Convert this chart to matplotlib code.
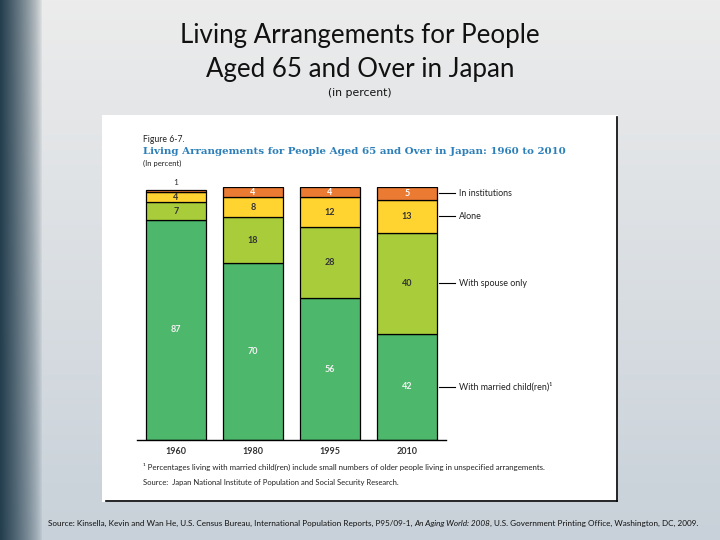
import numpy as np
import matplotlib.pyplot as plt
from matplotlib.patches import Rectangle
from matplotlib.lines import Line2D

# data
years = ["1960", "1980", "1995", "2010"]
married_child = [87, 70, 56, 42]
spouse_only = [7, 18, 28, 40]
alone = [4, 8, 12, 13]
institutions = [1, 4, 4, 5]
series_names = ["With married child(ren)¹", "With spouse only", "Alone", "In institutions"]

W, H = 720, 540


def fx(px):
    return px / W


def fy(py):
    return 1 - py / H


fig = plt.figure(figsize=(7.2, 5.4), dpi=100)

# slide background (light gray gradient with dark band on the left)
bg = fig.add_axes([0, 0, 1, 1])
yy = np.linspace(0, 1, H)[:, None]
xx = np.linspace(0, 1, W)[None, :]
top = np.array([236, 236, 236]) / 255
bot = np.array([200, 209, 217]) / 255
img = top * (1 - yy[..., None]) + bot * yy[..., None]
img = img * np.ones((1, W, 1))
dark = np.array([36, 62, 78]) / 255
band = np.clip(1 - (xx * W) / 42, 0, 1) ** 0.7
band = band[..., None]
img = img * (1 - band) + dark * band
bg.imshow(img, extent=[0, 1, 0, 1], aspect="auto")
bg.set_xlim(0, 1)
bg.set_ylim(0, 1)
bg.axis("off")

fig.text(0.5, fy(36), "Living Arrangements for People", ha="center", va="center",
         fontsize=18.6, family="Lato", color="#111111")
fig.text(0.5, fy(69), "Aged 65 and Over in Japan", ha="center", va="center",
         fontsize=18.6, family="Lato", color="#111111")
fig.text(0.5, fy(93), "(in percent)", ha="center", va="center",
         fontsize=7.8, family="DejaVu Sans Condensed", color="#111111")

# white panel with the original figure
fig.patches.append(Rectangle((fx(102), fy(502)), fx(516), 387 / H, transform=fig.transFigure,
                             facecolor="white", edgecolor="none", zorder=1))
fig.lines.append(Line2D([fx(617), fx(617)], [fy(117), fy(501)], transform=fig.transFigure,
                        color="black", lw=1.2, zorder=2))
fig.lines.append(Line2D([fx(106), fx(617)], [fy(501), fy(501)], transform=fig.transFigure,
                        color="black", lw=1.2, zorder=2))

fig.text(fx(143), fy(140), "Figure 6-7.", va="center", fontsize=6.2, family="Lato",
         color="#222222", zorder=3)
fig.text(fx(143), fy(152), "Living Arrangements for People Aged 65 and Over in Japan: 1960 to 2010",
         va="center", fontsize=7.35, family="DejaVu Serif", weight="bold", color="#2C7FB8", zorder=3)
fig.text(fx(143), fy(163), "(In percent)", va="center", fontsize=5.5, family="Lato",
         color="#222222", zorder=3)

# bar chart
ax = fig.add_axes([fx(137), fy(440), fx(446 - 137), (440 - 187) / H])
ax.set_zorder(3)
ax.patch.set_alpha(0)
colors = ["#4DB86B", "#A9CC3A", "#FFD330", "#EB7A32"]
txt_colors = ["#F2F2F2", "#333333", "#333333", "#FFFFFF"]
stack = [married_child, spouse_only, alone, institutions]
x = np.arange(len(years))
bottom = np.zeros(len(years))
for vals, c, tc in zip(stack, colors, txt_colors):
    vals = np.array(vals)
    ax.bar(x, vals, bottom=bottom, width=0.79, color=c, edgecolor="black", linewidth=0.9)
    for i, v in enumerate(vals):
        if v < 2:
            ax.text(x[i], bottom[i] + v + 1.2, str(v), ha="center", va="bottom",
                    fontsize=6.0, family="Lato", color="#333333")
        else:
            ax.text(x[i], bottom[i] + v / 2, str(v), ha="center", va="center",
                    fontsize=6.5, family="Lato", weight="bold", color=tc)
    bottom = bottom + vals

# leader lines and series labels at the 2010 bar
last = len(years) - 1
cum = 0
for name, vals in zip(series_names, stack):
    mid = cum + vals[last] / 2
    ax.plot([last + 0.415, last + 0.62], [mid, mid], color="black", lw=0.8, clip_on=False)
    ax.text(last + 0.675, mid, name, va="center", fontsize=6.4,
            family=["Lato", "DejaVu Sans"], color="#222222")
    cum += vals[last]

ax.set_xlim(-0.506, 3.506)
ax.set_ylim(0, 100)
ax.set_xticks(x)
ax.set_xticklabels(years, fontsize=6.5, family="Lato", weight="bold", color="#333333")
ax.tick_params(axis="x", length=0, pad=5)
ax.set_yticks([])
for s in ["top", "right", "left"]:
    ax.spines[s].set_visible(False)
ax.spines["bottom"].set_linewidth(1.0)

fig.text(fx(143), fy(467), "¹ Percentages living with married child(ren) include small numbers of older people living in unspecified arrangements.",
         va="center", fontsize=5.7, family=["Lato", "DejaVu Sans"], color="#222222", zorder=3)
fig.text(fx(143), fy(482), "Source:  Japan National Institute of Population and Social Security Research.",
         va="center", fontsize=5.5, family="Lato", color="#222222", zorder=3)

# slide source line with italic title
t1 = fig.text(fx(48), fy(523), "Source: Kinsella, Kevin and Wan He, U.S. Census Bureau, International Population Reports, P95/09-1, ",
              va="center", fontsize=5.9, family="Lato", color="#111111")
t2 = bg.annotate("An Aging World: 2008", xy=(1, 0), xycoords=t1, va="bottom", ha="left",
                 fontsize=5.9, family="Lato", style="italic", color="#111111")
bg.annotate(", U.S. Government Printing Office, Washington, DC, 2009.", xy=(1, 0), xycoords=t2,
            va="bottom", ha="left", fontsize=5.9, family="Lato", color="#111111")

fig.savefig("out.png", dpi=100)
